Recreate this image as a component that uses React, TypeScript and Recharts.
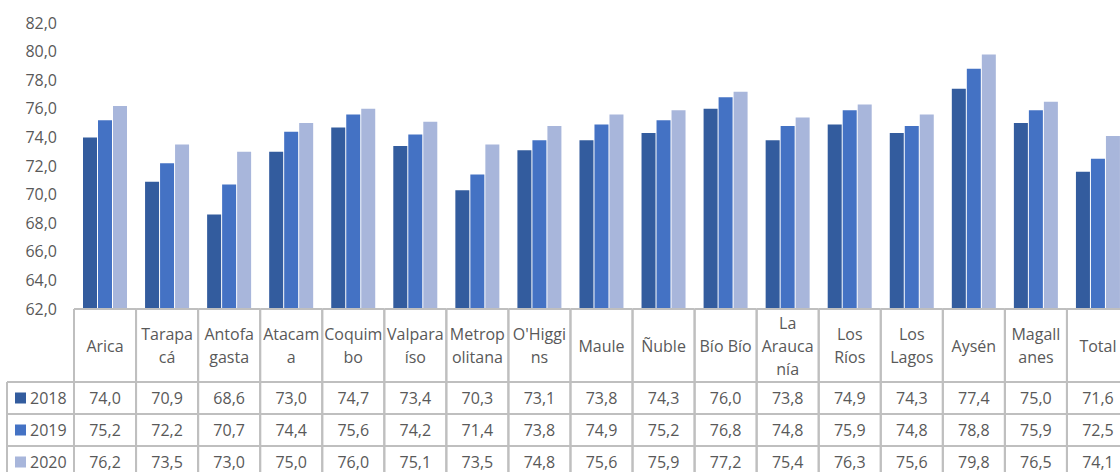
import { BarChart, Bar, XAxis, YAxis } from 'recharts'

const regions = ['Arica', 'Tarapacá', 'Antofagasta', 'Atacama', 'Coquimbo', 'Valparaíso', 'Metropolitana', "O'Higgins", 'Maule', 'Ñuble', 'Bío Bío', 'La Araucanía', 'Los Ríos', 'Los Lagos', 'Aysén', 'Magallanes', 'Total']
const headerLines = [['Arica'], ['Tarapa', 'cá'], ['Antofa', 'gasta'], ['Atacam', 'a'], ['Coquim', 'bo'], ['Valpara', 'íso'], ['Metrop', 'olitana'], ["O'Higgi", 'ns'], ['Maule'], ['Ñuble'], ['Bío Bío'], ['La', 'Arauca', 'nía'], ['Los', 'Ríos'], ['Los', 'Lagos'], ['Aysén'], ['Magall', 'anes'], ['Total']]
const years = ['2018', '2019', '2020']
const v2018 = [74.0, 70.9, 68.6, 73.0, 74.7, 73.4, 70.3, 73.1, 73.8, 74.3, 76.0, 73.8, 74.9, 74.3, 77.4, 75.0, 71.6]
const v2019 = [75.2, 72.2, 70.7, 74.4, 75.6, 74.2, 71.4, 73.8, 74.9, 75.2, 76.8, 74.8, 75.9, 74.8, 78.8, 75.9, 72.5]
const v2020 = [76.2, 73.5, 73.0, 75.0, 76.0, 75.1, 73.5, 74.8, 75.6, 75.9, 77.2, 75.4, 76.3, 75.6, 79.8, 76.5, 74.1]
const yTicks = [62, 64, 66, 68, 70, 72, 74, 76, 78, 80, 82]

const colors = ['#335c9e', '#4472c4', '#a8b6db']
const series = [v2018, v2019, v2020]

const data = regions.map((r, i) => ({ region: r, y2018: v2018[i], y2019: v2019[i], y2020: v2020[i] }))

const W = 1129
const YW = 74
const BAND = (W - YW) / regions.length
const FONT = '"Open Sans", sans-serif'
const TXT = '#595959'
const GRID = '#bfbfbf'
const HEAD_H = 73
const ROW_H = 32

const fmt = (v: number) => v.toFixed(1).replace('.', ',')

// category header + data table column, drawn per x tick so it follows the band scale
const TableTick = ({ x, y, payload }: any) => {
  const i = payload.index
  const l = x - BAND / 2
  const r = x + BAND / 2
  const lines = headerLines[i]
  const lh = 23
  const cy = y + HEAD_H / 2
  return (
    <g fontFamily={FONT} fontSize={16} fill={TXT}>
      <line x1={l} x2={r} y1={y} y2={y} stroke={GRID} strokeWidth={2} />
      <line x1={l} x2={l} y1={y} y2={y + HEAD_H + ROW_H * 3} stroke={GRID} strokeWidth={2} />
      <line x1={r} x2={r} y1={y} y2={y + HEAD_H + ROW_H * 3} stroke={GRID} strokeWidth={2} />
      {[0, 1, 2].map(k => (
        <line key={k} x1={l} x2={r} y1={y + HEAD_H + ROW_H * k} y2={y + HEAD_H + ROW_H * k} stroke={GRID} strokeWidth={2} />
      ))}
      {lines.map((t: string, k: number) => (
        <text key={k} x={x} y={cy + (k - (lines.length - 1) / 2) * lh} textAnchor="middle" dominantBaseline="central">{t}</text>
      ))}
      {series.map((s, k) => (
        <text key={k} x={x} y={y + HEAD_H + ROW_H * k + ROW_H / 2} textAnchor="middle" dominantBaseline="central">{fmt(s[i])}</text>
      ))}
      {i === 0 && (
        <g>
          <line x1={7} x2={l} y1={y + HEAD_H} y2={y + HEAD_H} stroke={GRID} strokeWidth={2} />
          <line x1={7} x2={7} y1={y + HEAD_H} y2={y + HEAD_H + ROW_H * 3} stroke={GRID} strokeWidth={2} />
          {years.map((yr, k) => (
            <g key={yr}>
              <line x1={7} x2={l} y1={y + HEAD_H + ROW_H * (k + 1)} y2={y + HEAD_H + ROW_H * (k + 1)} stroke={GRID} strokeWidth={2} />
              <rect x={15} y={y + HEAD_H + ROW_H * k + ROW_H / 2 - 5.5} width={11} height={11} fill={colors[k]} />
              <text x={30} y={y + HEAD_H + ROW_H * k + ROW_H / 2} dominantBaseline="central">{yr}</text>
            </g>
          ))}
        </g>
      )}
    </g>
  )
}

export default function App() {
  return (
    <div style={{ position: 'absolute', left: 0, top: 0, width: 1120, height: 472, overflow: 'hidden', background: '#fff' }}>
      <BarChart width={W} height={472} data={data} margin={{ top: 23, right: 0, left: 0, bottom: 0 }} barCategoryGap={9} barGap={1}>
        <XAxis dataKey="region" height={163} interval={0} axisLine={false} tickLine={false} tickSize={0} tickMargin={0} tick={<TableTick />} />
        <YAxis width={YW} domain={[62, 82]} ticks={yTicks} axisLine={false} tickLine={false} tickSize={0} tickMargin={17}
          tickFormatter={fmt} tick={{ fontSize: 16, fill: TXT, fontFamily: FONT }} allowDataOverflow />
        <Bar dataKey="y2018" fill={colors[0]} isAnimationActive={false} />
        <Bar dataKey="y2019" fill={colors[1]} isAnimationActive={false} />
        <Bar dataKey="y2020" fill={colors[2]} isAnimationActive={false} />
      </BarChart>
    </div>
  )
}
